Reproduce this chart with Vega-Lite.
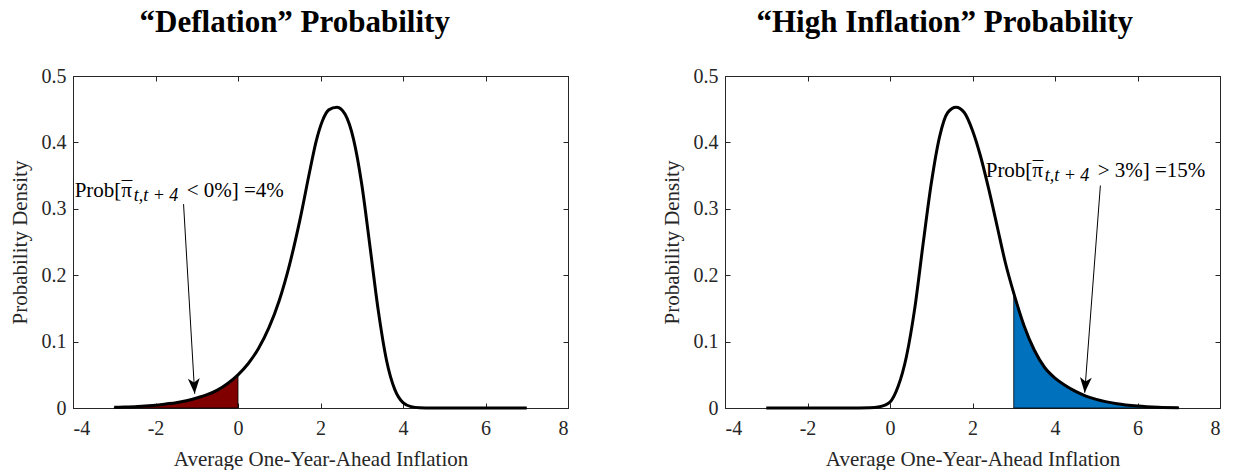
{
  "$schema": "https://vega.github.io/schema/vega-lite/v6.json",
  "background": "white",
  "padding": {"left": 8, "top": 6, "right": 5, "bottom": 0},
  "datasets": {
    "deflation": [
      {"x": -3, "d": 0.001}, {"x": -2.75, "d": 0.0015}, {"x": -2.5, "d": 0.002}, {"x": -2.25, "d": 0.003},
      {"x": -2, "d": 0.004}, {"x": -1.75, "d": 0.006}, {"x": -1.5, "d": 0.008}, {"x": -1.25, "d": 0.011},
      {"x": -1, "d": 0.015}, {"x": -0.75, "d": 0.02}, {"x": -0.5, "d": 0.027}, {"x": -0.25, "d": 0.037},
      {"x": 0, "d": 0.05}, {"x": 0.25, "d": 0.067}, {"x": 0.5, "d": 0.09}, {"x": 0.75, "d": 0.121},
      {"x": 1, "d": 0.162}, {"x": 1.25, "d": 0.216}, {"x": 1.5, "d": 0.283}, {"x": 1.75, "d": 0.36},
      {"x": 1.9, "d": 0.403}, {"x": 2.05, "d": 0.433}, {"x": 2.2, "d": 0.449}, {"x": 2.4, "d": 0.453},
      {"x": 2.6, "d": 0.442}, {"x": 2.8, "d": 0.405}, {"x": 3.0, "d": 0.337}, {"x": 3.2, "d": 0.243},
      {"x": 3.4, "d": 0.147}, {"x": 3.6, "d": 0.072}, {"x": 3.8, "d": 0.028}, {"x": 4.0, "d": 0.008},
      {"x": 4.2, "d": 0.002}, {"x": 4.4, "d": 0.0004}, {"x": 4.7, "d": 0}, {"x": 5.5, "d": 0},
      {"x": 6.5, "d": 0}, {"x": 7, "d": 0}
    ],
    "highinf": [
      {"x": -3, "d": 0}, {"x": -2, "d": 0}, {"x": -1, "d": 0}, {"x": -0.5, "d": 0.0003},
      {"x": -0.25, "d": 0.002}, {"x": 0, "d": 0.009}, {"x": 0.2, "d": 0.033}, {"x": 0.4, "d": 0.078},
      {"x": 0.6, "d": 0.15}, {"x": 0.8, "d": 0.246}, {"x": 1.0, "d": 0.338}, {"x": 1.2, "d": 0.408},
      {"x": 1.4, "d": 0.445}, {"x": 1.6, "d": 0.453}, {"x": 1.8, "d": 0.445}, {"x": 2.0, "d": 0.418},
      {"x": 2.2, "d": 0.378}, {"x": 2.4, "d": 0.328}, {"x": 2.6, "d": 0.273}, {"x": 2.8, "d": 0.218},
      {"x": 3.0, "d": 0.173}, {"x": 3.25, "d": 0.124}, {"x": 3.5, "d": 0.087}, {"x": 3.75, "d": 0.061},
      {"x": 4.0, "d": 0.045}, {"x": 4.25, "d": 0.034}, {"x": 4.5, "d": 0.025}, {"x": 4.75, "d": 0.018},
      {"x": 5.0, "d": 0.013}, {"x": 5.5, "d": 0.0065}, {"x": 6.0, "d": 0.003}, {"x": 6.5, "d": 0.0012},
      {"x": 7.0, "d": 0.0005}
    ],
    "note_left": [
      {"x": -1.32, "y": 0.307, "x2": -1.05, "y2": 0.0215, "tx": -3.96, "ty": 0.328,
       "head": "Prob[π", "bar": "¯", "sub": "t,t + 4", "tail": "<  0%] =4%", "angle": -3.3}
    ],
    "note_right": [
      {"x": 5.1, "y": 0.335, "x2": 4.72, "y2": 0.023, "tx": 2.32, "ty": 0.358,
       "head": "Prob[π", "bar": "¯", "sub": "t,t + 4", "tail": ">  3%] =15%", "angle": 4.3}
    ]
  },
  "hconcat": [
    {
      "width": 495,
      "height": 332,
      "title": {"text": "“Deflation” Probability", "dx": 6},
      "resolve": {"axis": {"x": "independent", "y": "independent"}},
      "layer": [
        {
          "data": {"name": "deflation"},
          "transform": [{"filter": "datum.x <= 0"}],
          "mark": {"type": "area", "color": "#800000", "stroke": "black", "strokeWidth": 0.8, "interpolate": "monotone"},
          "encoding": {
            "x": {"field": "x", "type": "quantitative", "axis": null},
            "y": {"field": "d", "type": "quantitative", "axis": null}
          }
        },
        {
          "data": {"name": "deflation"},
          "mark": {"type": "line", "color": "black", "strokeWidth": 3, "interpolate": "monotone"},
          "encoding": {
            "x": {"field": "x", "type": "quantitative", "scale": {"domain": [-4, 8], "nice": false},
                  "axis": {"values": [-4, -2, 0, 2, 4, 6, 8], "labelExpr": "'' + datum.value", "title": "Average One-Year-Ahead Inflation"}},
            "y": {"field": "d", "type": "quantitative", "scale": {"domain": [0, 0.5], "nice": false},
                  "axis": {"values": [0, 0.1, 0.2, 0.3, 0.4, 0.5], "labelExpr": "'' + datum.value", "title": "Probability Density"}}
          }
        },
        {
          "data": {"name": "note_left"},
          "mark": {"type": "rule", "color": "black", "strokeWidth": 1},
          "encoding": {
            "x": {"field": "x", "type": "quantitative", "axis": {"orient": "top", "values": [-4, -2, 0, 2, 4, 6, 8], "labels": false, "title": null}},
            "y": {"field": "y", "type": "quantitative", "axis": {"orient": "right", "values": [0, 0.1, 0.2, 0.3, 0.4, 0.5], "labels": false, "title": null}},
            "x2": {"field": "x2"},
            "y2": {"field": "y2"}
          }
        },
        {
          "data": {"name": "note_left"},
          "mark": {"type": "point", "filled": true, "color": "black", "opacity": 1, "size": 140,
                   "shape": "M0,0 L-1,-2.6 L0,-1.9 L1,-2.6 Z"},
          "encoding": {
            "x": {"field": "x2", "type": "quantitative", "axis": null},
            "y": {"field": "y2", "type": "quantitative", "axis": null},
            "angle": {"field": "angle", "type": "quantitative", "scale": null}
          }
        },
        {
          "data": {"name": "note_left"},
          "mark": {"type": "text", "align": "left", "baseline": "alphabetic", "dy": 7, "font": "Liberation Serif", "fontSize": 21, "color": "black"},
          "encoding": {
            "x": {"field": "tx", "type": "quantitative", "axis": null},
            "y": {"field": "ty", "type": "quantitative", "axis": null},
            "text": {"field": "head"}
          }
        },
        {
          "data": {"name": "note_left"},
          "mark": {"type": "text", "align": "left", "baseline": "alphabetic", "dx": 47, "dy": 6, "font": "Liberation Serif", "fontSize": 21, "color": "black"},
          "encoding": {
            "x": {"field": "tx", "type": "quantitative", "axis": null},
            "y": {"field": "ty", "type": "quantitative", "axis": null},
            "text": {"field": "bar"}
          }
        },
        {
          "data": {"name": "note_left"},
          "mark": {"type": "text", "align": "left", "baseline": "alphabetic", "dx": 59, "dy": 11, "font": "Liberation Serif", "fontStyle": "italic", "fontSize": 18, "color": "black"},
          "encoding": {
            "x": {"field": "tx", "type": "quantitative", "axis": null},
            "y": {"field": "ty", "type": "quantitative", "axis": null},
            "text": {"field": "sub"}
          }
        },
        {
          "data": {"name": "note_left"},
          "mark": {"type": "text", "align": "left", "baseline": "alphabetic", "dx": 112, "dy": 7, "font": "Liberation Serif", "fontSize": 21, "color": "black"},
          "encoding": {
            "x": {"field": "tx", "type": "quantitative", "axis": null},
            "y": {"field": "ty", "type": "quantitative", "axis": null},
            "text": {"field": "tail"}
          }
        }
      ]
    },
    {
      "width": 495,
      "height": 332,
      "title": {"text": "“High Inflation” Probability", "dx": 4},
      "resolve": {"axis": {"x": "independent", "y": "independent"}},
      "layer": [
        {
          "data": {"name": "highinf"},
          "transform": [{"filter": "datum.x >= 3"}],
          "mark": {"type": "area", "color": "#0072BD", "stroke": "black", "strokeWidth": 0.8, "interpolate": "monotone"},
          "encoding": {
            "x": {"field": "x", "type": "quantitative", "axis": null},
            "y": {"field": "d", "type": "quantitative", "axis": null}
          }
        },
        {
          "data": {"name": "highinf"},
          "mark": {"type": "line", "color": "black", "strokeWidth": 3, "interpolate": "monotone"},
          "encoding": {
            "x": {"field": "x", "type": "quantitative", "scale": {"domain": [-4, 8], "nice": false},
                  "axis": {"values": [-4, -2, 0, 2, 4, 6, 8], "labelExpr": "'' + datum.value", "title": "Average One-Year-Ahead Inflation"}},
            "y": {"field": "d", "type": "quantitative", "scale": {"domain": [0, 0.5], "nice": false},
                  "axis": {"values": [0, 0.1, 0.2, 0.3, 0.4, 0.5], "labelExpr": "'' + datum.value", "title": "Probability Density"}}
          }
        },
        {
          "data": {"name": "note_right"},
          "mark": {"type": "rule", "color": "black", "strokeWidth": 1},
          "encoding": {
            "x": {"field": "x", "type": "quantitative", "axis": {"orient": "top", "values": [-4, -2, 0, 2, 4, 6, 8], "labels": false, "title": null}},
            "y": {"field": "y", "type": "quantitative", "axis": {"orient": "right", "values": [0, 0.1, 0.2, 0.3, 0.4, 0.5], "labels": false, "title": null}},
            "x2": {"field": "x2"},
            "y2": {"field": "y2"}
          }
        },
        {
          "data": {"name": "note_right"},
          "mark": {"type": "point", "filled": true, "color": "black", "opacity": 1, "size": 140,
                   "shape": "M0,0 L-1,-2.6 L0,-1.9 L1,-2.6 Z"},
          "encoding": {
            "x": {"field": "x2", "type": "quantitative", "axis": null},
            "y": {"field": "y2", "type": "quantitative", "axis": null},
            "angle": {"field": "angle", "type": "quantitative", "scale": null}
          }
        },
        {
          "data": {"name": "note_right"},
          "mark": {"type": "text", "align": "left", "baseline": "alphabetic", "dy": 7, "font": "Liberation Serif", "fontSize": 21, "color": "black"},
          "encoding": {
            "x": {"field": "tx", "type": "quantitative", "axis": null},
            "y": {"field": "ty", "type": "quantitative", "axis": null},
            "text": {"field": "head"}
          }
        },
        {
          "data": {"name": "note_right"},
          "mark": {"type": "text", "align": "left", "baseline": "alphabetic", "dx": 47, "dy": 6, "font": "Liberation Serif", "fontSize": 21, "color": "black"},
          "encoding": {
            "x": {"field": "tx", "type": "quantitative", "axis": null},
            "y": {"field": "ty", "type": "quantitative", "axis": null},
            "text": {"field": "bar"}
          }
        },
        {
          "data": {"name": "note_right"},
          "mark": {"type": "text", "align": "left", "baseline": "alphabetic", "dx": 59, "dy": 11, "font": "Liberation Serif", "fontStyle": "italic", "fontSize": 18, "color": "black"},
          "encoding": {
            "x": {"field": "tx", "type": "quantitative", "axis": null},
            "y": {"field": "ty", "type": "quantitative", "axis": null},
            "text": {"field": "sub"}
          }
        },
        {
          "data": {"name": "note_right"},
          "mark": {"type": "text", "align": "left", "baseline": "alphabetic", "dx": 112, "dy": 7, "font": "Liberation Serif", "fontSize": 21, "color": "black"},
          "encoding": {
            "x": {"field": "tx", "type": "quantitative", "axis": null},
            "y": {"field": "ty", "type": "quantitative", "axis": null},
            "text": {"field": "tail"}
          }
        }
      ]
    }
  ],
  "spacing": 91,
  "config": {
    "view": {"stroke": "#262626", "strokeWidth": 1},
    "title": {"font": "Liberation Serif", "fontSize": 31, "fontWeight": "bold", "color": "black", "anchor": "middle", "frame": "bounds", "offset": 27},
    "axis": {
      "grid": false,
      "domainColor": "#262626",
      "domainWidth": 1,
      "tickColor": "#262626",
      "tickSize": -5,
      "tickWidth": 1,
      "labelFont": "Liberation Serif",
      "labelFontSize": 20,
      "labelColor": "#262626",
      "labelPadding": 12,
      "titleFont": "Liberation Serif",
      "titleFontSize": 21,
      "titleFontWeight": "normal",
      "titleColor": "#262626"
    },
    "axisX": {"titlePadding": 10, "labelPadding": 15},
    "axisY": {"titlePadding": 11}
  }
}
